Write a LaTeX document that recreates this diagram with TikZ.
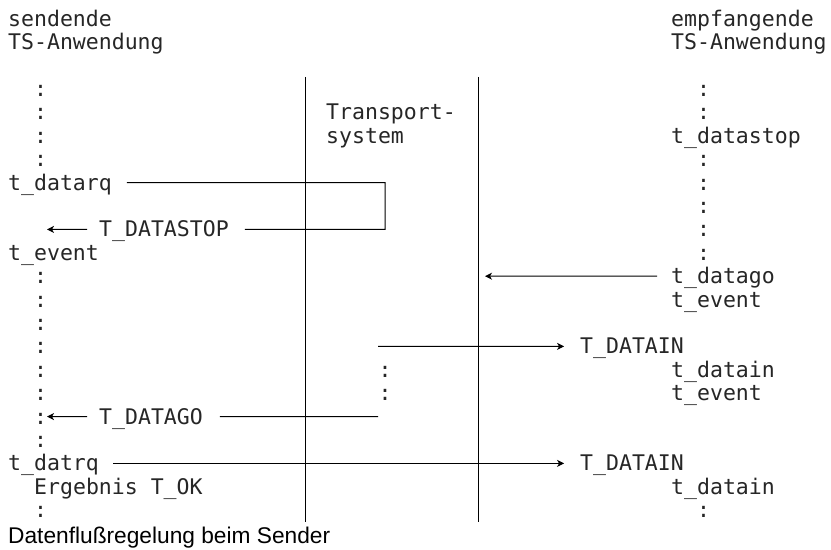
\documentclass[tikz,border=0pt]{standalone}
\usepackage{fontspec}
\setmainfont{Liberation Sans}
\newfontfamily\diagmono{DejaVu Sans Mono}
\usetikzlibrary{arrows.meta}

% baseline of text row #1 (one row = 23.4bp)
\newcommand\rowy[1]{26.3+23.4*#1}

\begin{document}
\begin{tikzpicture}[x=1bp,y=-1bp,
  lbl/.style={anchor=base west, inner sep=0pt, text height=15bp, text depth=0bp,
    font=\diagmono\fontsize{21.6}{23.4}\selectfont, text=black!85},
  dots/.style={anchor=base, inner sep=0pt,
    font=\diagmono\fontsize{21.6}{23.4}\selectfont, text=black!85},
  lane/.style={line width=1bp, draw=black},
  msg/.style={line width=1bp, draw=black},
  tip/.style={-{Stealth[length=7bp,width=7bp,inset=2bp]}},
  caption/.style={anchor=base west, inner sep=0pt, font=\fontsize{22.8}{26}\selectfont}
]
\useasboundingbox (0,0) rectangle (831,550);

% ---- lanes of the transport system
\coordinate (laneAtop) at (305,77);
\coordinate (laneAbot) at (305,522);
\coordinate (laneBtop) at (478,77);
\coordinate (laneBbot) at (478,522);
\draw[lane] (laneAtop) -- (laneAbot);
\draw[lane] (laneBtop) -- (laneBbot);

% ---- sending application
\node[lbl] (sendA) at (8,{\rowy{0}}) {sendende};
\node[lbl] (sendB) at (8,{\rowy{1}}) {TS-Anwendung};
\foreach \r in {3,4,5,6,11,12,13,14,15,16,17,18,21}
  \node[dots] (sc\r) at (40.5,{\rowy{\r}}) {:};
\node[lbl] (datarq)   at (8,{\rowy{7}})  {t\_datarq};
\node[lbl] (datastop) at (99,{\rowy{9}}) {T\_DATASTOP};
\node[lbl] (sevent)   at (8,{\rowy{10}}) {t\_event};
\node[lbl] (datagoS)  at (99,{\rowy{17}}) {T\_DATAGO};
\node[lbl] (datrq)    at (8,{\rowy{19}}) {t\_datrq};
\node[lbl] (result)   at (34,{\rowy{20}}) {Ergebnis T\_OK};

% ---- transport system
\node[lbl] (tsA) at (326,{\rowy{4}}) {Transport-};
\node[lbl] (tsB) at (326,{\rowy{5}}) {system};
\foreach \r in {15,16}
  \node[dots] (mc\r) at (385,{\rowy{\r}}) {:};

% ---- receiving application
\node[lbl] (recvA) at (671,{\rowy{0}}) {empfangende};
\node[lbl] (recvB) at (671,{\rowy{1}}) {TS-Anwendung};
\foreach \r in {3,4,6,7,8,9,10,21}
  \node[dots] (rc\r) at (703.5,{\rowy{\r}}) {:};
\node[lbl] (rstop)    at (671,{\rowy{5}})  {t\_datastop};
\node[lbl] (datago)   at (671,{\rowy{11}}) {t\_datago};
\node[lbl] (revA)     at (671,{\rowy{12}}) {t\_event};
\node[lbl] (datainA)  at (580,{\rowy{14}}) {T\_DATAIN};
\node[lbl] (rinA)     at (671,{\rowy{15}}) {t\_datain};
\node[lbl] (revB)     at (671,{\rowy{16}}) {t\_event};
\node[lbl] (datainB)  at (580,{\rowy{19}}) {T\_DATAIN};
\node[lbl] (rinB)     at (671,{\rowy{20}}) {t\_datain};

% ---- messages
% t_datarq is turned back by the transport system as T_DATASTOP
\coordinate (loopT) at (385,{\rowy{7}-7.5});
\coordinate (loopB) at (385,{\rowy{9}-7.5});
\draw[msg] ([xshift=15]datarq.east) -- (loopT) -- (loopB) -- ([xshift=16]datastop.east);
\coordinate (stopTip) at (47,{\rowy{9}-7.5});
\draw[msg,tip] ([xshift=-12]datastop.west) -- (stopTip);

% receiver releases the flow
\coordinate (goTip) at (485,{\rowy{11}-7.5});
\draw[msg,tip] ([xshift=-14]datago.west) -- (goTip);

% waiting data is delivered
\coordinate (inStart) at (378,{\rowy{14}-7.5});
\draw[msg,tip] (inStart) -- ([xshift=-16]datainA.west);

% sender is told it may go on
\coordinate (goStart) at (378,{\rowy{17}-7.5});
\draw[msg] (goStart) -- ([xshift=17]datagoS.east);
\coordinate (goTipL) at (47,{\rowy{17}-7.5});
\draw[msg,tip] ([xshift=-12]datagoS.west) -- (goTipL);

% next data request passes straight through
\draw[msg,tip] ([xshift=14]datrq.east) -- ([xshift=-16]datainB.west);

% ---- caption
\node[caption] (cap) at (8,543.5) {Datenflußregelung beim Sender};
\end{tikzpicture}
\end{document}
